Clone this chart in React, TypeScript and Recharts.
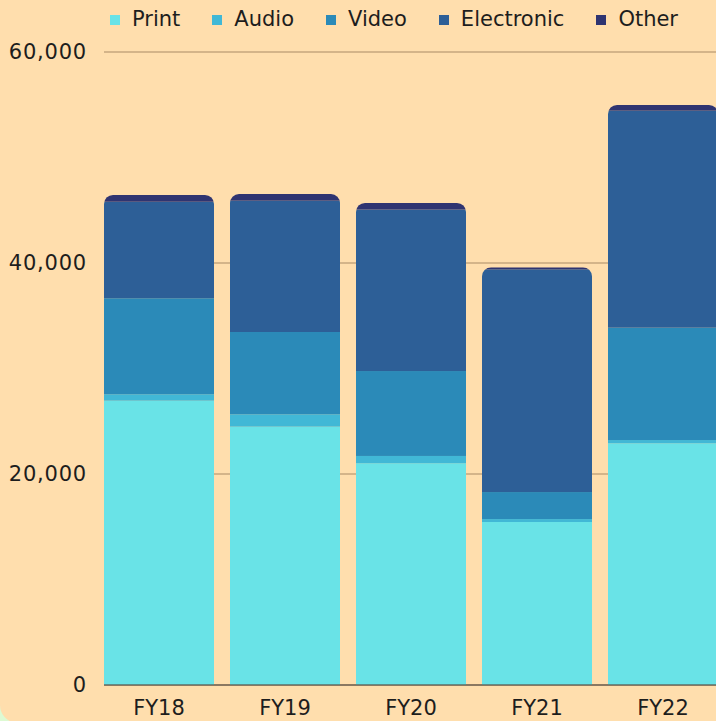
import React from "react";
import {
  BarChart,
  Bar,
  XAxis,
  YAxis,
  CartesianGrid,
  Legend,
} from "recharts";

const categories = ["FY18", "FY19", "FY20", "FY21", "FY22"];
const printValues = [26950, 24490, 21020, 15450, 22910];
const audioValues = [610, 1170, 690, 280, 310];
const videoValues = [9100, 7800, 8050, 2560, 10650];
const electronicValues = [9150, 12450, 15310, 21110, 20570];
const otherValues = [640, 630, 620, 190, 540];
const yTicks = [0, 20000, 40000, 60000];

const seriesKeys = ["Print", "Audio", "Video", "Electronic", "Other"];
const seriesColors: Record<string, string> = {
  Print: "#69E3E7",
  Audio: "#41B8D6",
  Video: "#2B8AB8",
  Electronic: "#2D5F97",
  Other: "#2F3471",
};

const chartData = categories.map((name, i) => ({
  name,
  Print: printValues[i],
  Audio: audioValues[i],
  Video: videoValues[i],
  Electronic: electronicValues[i],
  Other: otherValues[i],
}));

const TOP_RADIUS = 9;

// every segment is clipped by one rounded rect that starts at the top of the whole stack
const StackSegment = (props: any) => {
  const { x, y, width, height, payload, fill, index, seriesKey } = props;
  const h = Math.abs(height);
  const top = Math.min(y, y + height);
  const own = payload[seriesKey];
  const pos = seriesKeys.indexOf(seriesKey);
  let above = 0;
  for (let i = pos + 1; i < seriesKeys.length; i++) above += payload[seriesKeys[i]];
  const pxPerUnit = own ? h / own : 0;
  const stackTop = top - above * pxPerUnit;
  const id = `clip-${seriesKey}-${index}`;
  return (
    <g>
      <defs>
        <clipPath id={id}>
          <rect
            x={x}
            y={stackTop}
            width={width}
            height={top + h - stackTop + TOP_RADIUS * 2}
            rx={TOP_RADIUS}
            ry={TOP_RADIUS}
          />
        </clipPath>
      </defs>
      <rect x={x} y={top} width={width} height={h} fill={fill} clipPath={`url(#${id})`} />
    </g>
  );
};

const LegendRow = () => (
  <div style={{ display: "flex", alignItems: "center", height: 25 }}>
    {seriesKeys.map((k, i) => (
      <div
        key={k}
        style={{
          display: "flex",
          alignItems: "center",
          marginRight: i < seriesKeys.length - 1 ? 32 : 0,
        }}
      >
        <span
          style={{
            width: 10,
            height: 10,
            background: seriesColors[k],
            marginRight: 12,
            display: "inline-block",
          }}
        />
        <span style={{ fontSize: 21, color: "#1d1d1d", lineHeight: "25px" }}>{k}</span>
      </div>
    ))}
  </div>
);

export default function App() {
  return (
    <div
      style={{
        position: "absolute",
        left: 0,
        top: 0,
        width: 716,
        height: 721,
        overflow: "hidden",
        background: "#DDFAD3",
        fontFamily: "'DejaVu Sans', sans-serif",
      }}
    >
      <div
        style={{
          position: "absolute",
          left: 0,
          top: 0,
          width: 716,
          height: 723,
          background: "#FFDEAD",
          borderBottomLeftRadius: 18,
        }}
      />
      <div style={{ position: "absolute", left: 0, top: 0 }}>
        <BarChart
          width={726}
          height={721}
          data={chartData}
          margin={{ top: 52, right: 0, bottom: 0, left: 0 }}
        >
          <CartesianGrid vertical={false} stroke="#C6A67E" strokeWidth={1.5} />
          <XAxis
            dataKey="name"
            height={36}
            padding={{ left: -8, right: 0 }}
            tickLine={false}
            tickSize={6}
            tickMargin={9}
            axisLine={{ stroke: "rgba(90,80,70,0.6)", strokeWidth: 2 }}
            tick={{ fontSize: 21, fill: "#1d1d1d" }}
          />
          <YAxis
            width={104}
            domain={[0, 60000]}
            ticks={yTicks}
            axisLine={false}
            tickLine={false}
            tickSize={6}
            tickMargin={11}
            tickFormatter={(v: number) => v.toLocaleString("en-US")}
            tick={{ fontSize: 21, fill: "#1d1d1d", letterSpacing: 0.8 }}
          />
          <Legend
            layout="horizontal"
            verticalAlign="middle"
            align="center"
            content={<LegendRow />}
            wrapperStyle={{ top: 7, left: 110, width: 620, height: 25 }}
          />
          {seriesKeys.map((k) => (
            <Bar
              key={k}
              dataKey={k}
              stackId="a"
              fill={seriesColors[k]}
              barSize={110}
              isAnimationActive={false}
              shape={(p: any) => <StackSegment {...p} seriesKey={k} />}
            />
          ))}
        </BarChart>
      </div>
    </div>
  );
}
